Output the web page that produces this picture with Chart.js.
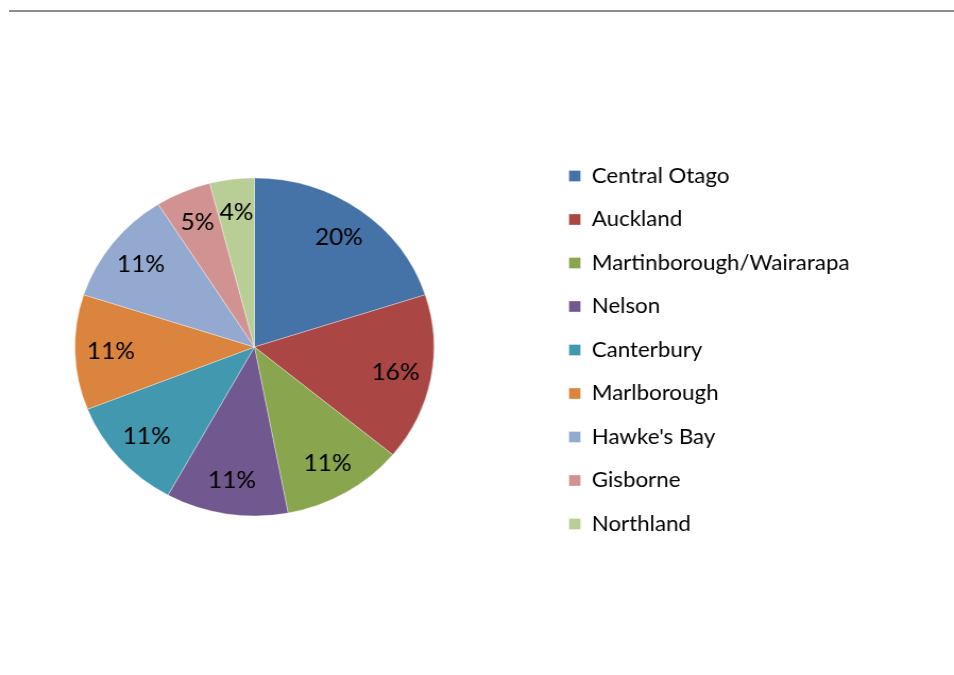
<!DOCTYPE html>
<html>
<head>
<meta charset="utf-8">
<title>Wine regions</title>
<script src="https://cdn.jsdelivr.net/npm/chart.js@4/dist/chart.umd.min.js"></script>
<style>
  html, body { margin: 0; padding: 0; background: #ffffff; overflow: hidden; }
  #frame { position: relative; width: 954px; height: 675px; }
  #rule { position: absolute; left: 9px; right: 0; top: 10px; height: 2px; background: #8e8e8e; }
  #wrap { position: absolute; left: 0; top: 0; width: 898px; height: 675px;
          transform: scaleX(1.06236); transform-origin: 0 0; }
</style>
</head>
<body>
<div id="frame">
  <div id="rule"></div>
  <div id="wrap"><canvas id="chart" width="898" height="675"></canvas></div>
</div>
<script>
const regions = ['Central Otago', 'Auckland', 'Martinborough/Wairarapa', 'Nelson',
                 'Canterbury', 'Marlborough', "Hawke's Bay", 'Gisborne', 'Northland'];
const shares = [20, 16, 11, 11, 11, 11, 11, 5, 4];
const sliceColors = ['#4572A7', '#AA4643', '#89A54E', '#71588F', '#4198AF',
                     '#DB843D', '#93A9CF', '#D19392', '#B9CD96'];

const FONT_FAMILY = 'Lato, "Open Sans", sans-serif';
const LEGEND_SIZE = 21;
const LEGEND_BOX = 11;
const LEGEND_GAP = 22.5;
const LEGEND_LEFT = 513;      // left edge of the legend block
const PIE_SHIFT = { x: -17, y: -3 };

// Reserve exactly enough room on the right so the legend starts at LEGEND_LEFT.
const measureCtx = document.createElement('canvas').getContext('2d');
measureCtx.font = LEGEND_SIZE + 'px ' + FONT_FAMILY;
const longest = Math.max(...regions.map(r => measureCtx.measureText(r).width));
const legendWidth = LEGEND_GAP + LEGEND_BOX + LEGEND_SIZE / 2 + longest + 10;
const rightPad = Math.max(0, 898 - LEGEND_LEFT - legendWidth);

// Moves the pie inside its area and writes the percentage in each slice.
const pieShift = {
  id: 'pieShift',
  beforeDatasetsDraw(chart) {
    chart.ctx.save();
    chart.ctx.translate(PIE_SHIFT.x, PIE_SHIFT.y);
  },
  afterDatasetsDraw(chart) {
    const ctx = chart.ctx;
    const meta = chart.getDatasetMeta(0);
    const values = chart.data.datasets[0].data;
    ctx.font = '23px ' + FONT_FAMILY;
    ctx.fillStyle = '#000000';
    ctx.textAlign = 'center';
    ctx.textBaseline = 'middle';
    meta.data.forEach((arc, i) => {
      const p = arc.getProps(['x', 'y', 'startAngle', 'endAngle', 'outerRadius'], true);
      const mid = (p.startAngle + p.endAngle) / 2;
      const r = p.outerRadius * 0.8;
      ctx.fillText(values[i] + '%', p.x + Math.cos(mid) * r, p.y + Math.sin(mid) * r);
    });
    ctx.restore();
  }
};

new Chart(document.getElementById('chart'), {
  type: 'pie',
  data: {
    labels: regions,
    datasets: [{
      data: shares,
      backgroundColor: sliceColors,
      borderColor: 'rgba(255,255,255,0.45)',
      borderWidth: 0.75,
      radius: 169
    }]
  },
  options: {
    responsive: false,
    animation: false,
    layout: { padding: { left: 0, right: rightPad, top: 25, bottom: 0 } },
    plugins: {
      tooltip: { enabled: false },
      legend: {
        position: 'right',
        align: 'center',
        labels: {
          boxWidth: LEGEND_BOX,
          boxHeight: LEGEND_BOX,
          padding: LEGEND_GAP,
          color: '#000000',
          font: { family: FONT_FAMILY, size: LEGEND_SIZE }
        }
      }
    }
  },
  plugins: [pieShift]
});
</script>
</body>
</html>
